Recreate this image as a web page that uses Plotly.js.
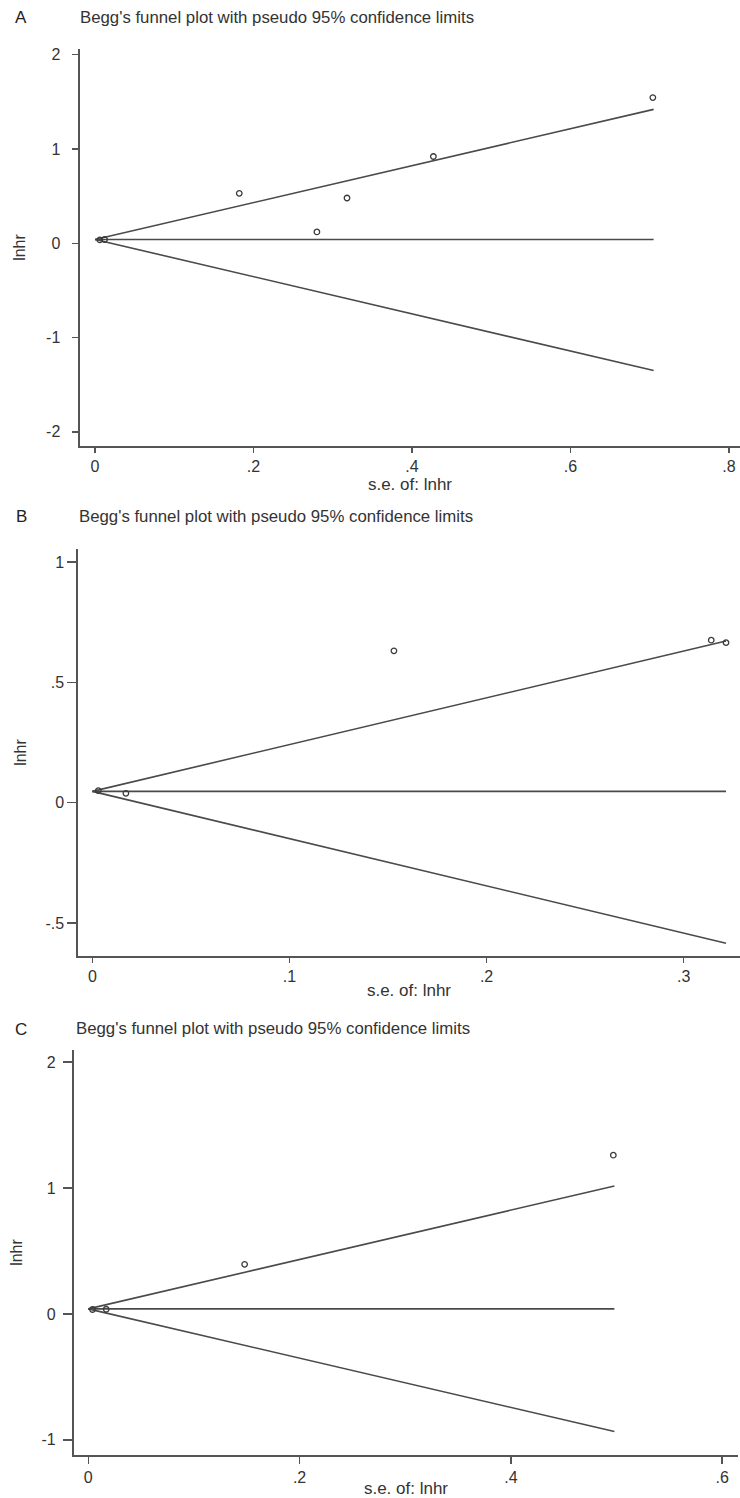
<!DOCTYPE html>
<html>
<head>
<meta charset="utf-8">
<script src="https://cdn.plot.ly/plotly-3.0.1.min.js"></script>
<style>html,body{margin:0;padding:0;background:#fff;}#chart{width:740px;height:1498px;}</style>
</head>
<body>
<div id="chart"></div>
<script>
// ---- Data ----
const chartTitle = "Begg's funnel plot with pseudo 95% confidence limits";
const panelLetters = ["A", "B", "C"];
const xTitle = "s.e. of: lnhr";
const yTitle = "lnhr";

// Panel A
const seA = [0.006, 0.012, 0.182, 0.280, 0.318, 0.427, 0.704];
const lnhrA = [0.035, 0.040, 0.53, 0.12, 0.48, 0.92, 1.545];
const funnelXA = [0, 0.705];
const upperA = [0.04, 1.42];
const lowerA = [0.04, -1.35];
const centerA = [0.04, 0.04];
const xTickValsA = [0, 0.2, 0.4, 0.6, 0.8];
const xTickTextA = ["0", ".2", ".4", ".6", ".8"];
const yTickValsA = [-2, -1, 0, 1, 2];
const yTickTextA = ["-2", "-1", "0", "1", "2"];

// Panel B
const seB = [0.003, 0.017, 0.153, 0.314, 0.3215];
const lnhrB = [0.05, 0.039, 0.631, 0.675, 0.665];
const funnelXB = [0, 0.3215];
const upperB = [0.047, 0.672];
const lowerB = [0.047, -0.584];
const centerB = [0.047, 0.047];
const xTickValsB = [0, 0.1, 0.2, 0.3];
const xTickTextB = ["0", ".1", ".2", ".3"];
const yTickValsB = [-0.5, 0, 0.5, 1];
const yTickTextB = ["-.5", "0", ".5", "1"];

// Panel C
const seC = [0.004, 0.017, 0.148, 0.497];
const lnhrC = [0.035, 0.037, 0.394, 1.26];
const funnelXC = [0, 0.498];
const upperC = [0.04, 1.016];
const lowerC = [0.04, -0.934];
const centerC = [0.04, 0.04];
const xTickValsC = [0, 0.2, 0.4, 0.6];
const xTickTextC = ["0", ".2", ".4", ".6"];
const yTickValsC = [-1, 0, 1, 2];
const yTickTextC = ["-1", "0", "1", "2"];

// ---- Styling ----
const W = 740, H = 1498;
const FONT = "Liberation Sans, Arial, sans-serif";
const TXT = "#333333";
const LINE = "#555555";
const px = v => v / W;
const py = v => 1 - v / H;
const NB = "\u00a0";

function lineTrace(x, y, xa, ya) {
  return {x: x, y: y, xaxis: xa, yaxis: ya, mode: "lines", type: "scatter",
          line: {color: "#4a4a4a", width: 1.6}, hoverinfo: "skip", showlegend: false};
}
function pointTrace(x, y, xa, ya) {
  return {x: x, y: y, xaxis: xa, yaxis: ya, mode: "markers", type: "scatter",
          marker: {symbol: "circle-open", size: 5.5, color: "#3a3a3a", line: {width: 1.3, color: "#3a3a3a"}},
          showlegend: false};
}

const data = [
  lineTrace(funnelXA, upperA, "x", "y"), lineTrace(funnelXA, lowerA, "x", "y"), lineTrace(funnelXA, centerA, "x", "y"),
  pointTrace(seA, lnhrA, "x", "y"),
  lineTrace(funnelXB, upperB, "x2", "y2"), lineTrace(funnelXB, lowerB, "x2", "y2"), lineTrace(funnelXB, centerB, "x2", "y2"),
  pointTrace(seB, lnhrB, "x2", "y2"),
  lineTrace(funnelXC, upperC, "x3", "y3"), lineTrace(funnelXC, lowerC, "x3", "y3"), lineTrace(funnelXC, centerC, "x3", "y3"),
  pointTrace(seC, lnhrC, "x3", "y3")
];

function xAxis(domain, range, tv, tt, anchor, ticklen, standoff) {
  return {domain: domain, range: range, anchor: anchor, tickmode: "array", tickvals: tv, ticktext: tt,
          showline: true, linecolor: LINE, linewidth: 1.6, ticks: "outside", ticklen: ticklen, tickwidth: 1.4,
          tickcolor: LINE, showgrid: false, zeroline: false, automargin: false,
          tickfont: {family: FONT, size: 16, color: TXT},
          title: {text: xTitle, font: {family: FONT, size: 17, color: TXT}, standoff: standoff}};
}
function yAxis(domain, range, tv, tt, anchor, ticklen, padCount, standoff) {
  const pad = NB.repeat(padCount);
  return {domain: domain, range: range, anchor: anchor, tickmode: "array", tickvals: tv,
          ticktext: tt.map(t => t + pad),
          showline: true, linecolor: LINE, linewidth: 1.6, ticks: "outside", ticklen: ticklen, tickwidth: 1.4,
          tickcolor: LINE, showgrid: false, zeroline: false, automargin: false,
          tickfont: {family: FONT, size: 16, color: TXT},
          title: {text: yTitle, font: {family: FONT, size: 16, color: TXT}, standoff: standoff}};
}

const titleYs = [17, 517, 1028];
const titleXs = [78, 77, 74];
const letterYs = [17, 517, 1029];
const annotations = [];
for (let i = 0; i < 3; i++) {
  annotations.push({text: chartTitle, xref: "paper", yref: "paper", x: px(titleXs[i]), y: py(titleYs[i]),
                    xanchor: "left", yanchor: "middle", showarrow: false,
                    font: {family: FONT, size: 16.8, color: TXT}});
  annotations.push({text: panelLetters[i], xref: "paper", yref: "paper", x: px(21), y: py(letterYs[i]),
                    xanchor: "center", yanchor: "middle", showarrow: false,
                    font: {family: FONT, size: 17, color: "#222"}});
}

const layout = {
  width: W, height: H,
  margin: {l: 0, r: 0, t: 0, b: 0, pad: 0},
  paper_bgcolor: "#ffffff", plot_bgcolor: "#ffffff",
  showlegend: false,
  xaxis: xAxis([px(80), 1], [-0.019, 0.814], xTickValsA, xTickTextA, "y", 5, 0),
  yaxis: yAxis([py(446), py(49)], [-2.15, 2.06], yTickValsA, yTickTextA, "x", 6, 2, 16),
  xaxis2: xAxis([px(78), 1], [-0.0073, 0.3286], xTickValsB, xTickTextB, "y2", 5, 0),
  yaxis2: yAxis([py(956), py(549)], [-0.637, 1.054], yTickValsB, yTickTextB, "x2", 9, 0, 15),
  xaxis3: xAxis([px(74), px(738)], [-0.0135, 0.615], xTickValsC, xTickTextC, "y3", 7, 0),
  yaxis3: yAxis([py(1455), py(1050)], [-1.12, 2.095], yTickValsC, yTickTextC, "x3", 9, 1, 15),
  annotations: annotations
};

Plotly.newPlot("chart", data, layout, {staticPlot: true, displayModeBar: false});
</script>
</body>
</html>
